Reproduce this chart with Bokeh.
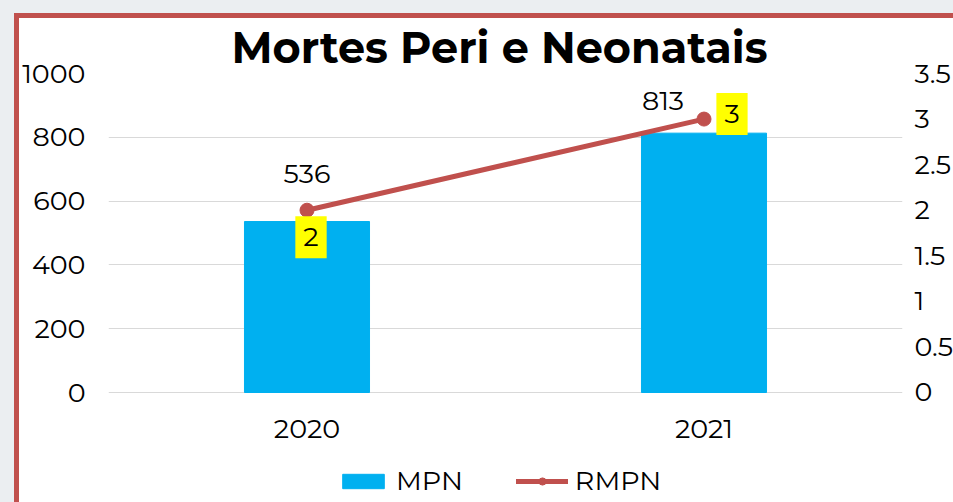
from bokeh.plotting import figure
from bokeh.models import (FactorRange, Range1d, LinearAxis, Legend, LegendItem,
                          ColumnDataSource, FixedTicker, Title)
from bokeh.core.properties import value
from bokeh.embed import file_html
from bokeh.resources import INLINE

# ---- data ----
years = ["2020", "2021"]
mpn = [536, 813]
rmpn = [2, 3]
mpn_labels = ["536", "813"]
rmpn_labels = ["2", "3"]
left_ticks = [0, 200, 400, 600, 800, 1000]
right_ticks = [0, 0.5, 1, 1.5, 2, 2.5, 3, 3.5]

# ---- layout constants (label placement, in screen px; +y is down) ----
mpn_lbl_dx = [0, -41]
mpn_lbl_dy = [-48, -32]
rmpn_lbl_dx = [4, 28]
rmpn_lbl_dy = [27, -5]
year_lbl_dy = 36
# frame extends below zero to hold the legend (legend is clipped to the frame)
LEFT_MIN, LEFT_MAX = -360.5, 1000
RIGHT_MIN, RIGHT_MAX = -1.262, 3.5

FONT = "Montserrat, Open Sans"
BLUE = "#00b0f0"
RED = "#c0504d"
GRID = "#d9d9d9"
PAGE = "#ebeef1"
FS = "27px"

src = ColumnDataSource(dict(
    x=years, mpn=mpn, rmpn=rmpn, mpn_lbl=mpn_labels, rmpn_lbl=rmpn_labels,
    mdx=mpn_lbl_dx, mdy=mpn_lbl_dy, rdx=rmpn_lbl_dx, rdy=rmpn_lbl_dy,
))

p = figure(
    width=939, height=489,
    x_range=FactorRange(*years, range_padding=0),
    y_range=Range1d(LEFT_MIN, LEFT_MAX),
    x_axis_location=None,
    output_backend="svg", toolbar_location=None,
    min_border_left=89, min_border_right=56, min_border_top=54, min_border_bottom=0,
    margin=(13, 0, 0, 14),
    styles={"border-left": f"5px solid {RED}", "border-top": f"5px solid {RED}",
            "box-shadow": f"-14px -13px 0 30px {PAGE}"},
)
p.background_fill_color = "white"
p.border_fill_color = "white"
p.outline_line_color = None

p.title = Title(text="Mortes Peri e Neonatais", align="left", text_font=FONT,
                text_font_size="43px", text_font_style="bold", text_color="black",
                offset=123, standoff=0)

p.extra_y_ranges = {"r": Range1d(RIGHT_MIN, RIGHT_MAX)}

bars = p.vbar(x="x", top="mpn", width=0.315, source=src, color=BLUE)
line = p.line(x="x", y="rmpn", source=src, y_range_name="r", line_color=RED,
              line_width=5, line_cap="round")
dots = p.scatter(x="x", y="rmpn", source=src, y_range_name="r", size=14,
                 fill_color=RED, line_color=RED)

# category labels (x axis)
p.text(x="x", y=0, text="x", source=src, y_offset=year_lbl_dy,
       text_align="center", text_baseline="middle", text_font=value(FONT),
       text_font_size=FS, text_color="black")

# data labels
p.text(x="x", y="mpn", text="mpn_lbl", source=src, x_offset="mdx", y_offset="mdy",
       text_align="center", text_baseline="middle", text_font=value(FONT),
       text_font_size=FS, text_color="black")

p.text(x="x", y="rmpn", text="rmpn_lbl", source=src, y_range_name="r",
       x_offset="rdx", y_offset="rdy",
       text_align="center", text_baseline="middle", text_font=value(FONT),
       text_font_size=FS, text_color="black",
       background_fill_color="#ffff00", padding=(8, 12))

# axes
p.yaxis.ticker = FixedTicker(ticks=left_ticks)
ax = p.yaxis[0]
rax = LinearAxis(y_range_name="r", ticker=FixedTicker(ticks=right_ticks))
p.add_layout(rax, "right")
for a, so in ((ax, 23), (rax, 12)):
    a.axis_line_color = None
    a.major_tick_line_color = None
    a.minor_tick_line_color = None
    a.major_tick_out = 0
    a.major_tick_in = 0
    a.minor_tick_out = 0
    a.minor_tick_in = 0
    a.major_label_text_font = FONT
    a.major_label_text_font_size = FS
    a.major_label_text_color = "black"
    a.major_label_standoff = so

p.xgrid.grid_line_color = None
p.ygrid.ticker = FixedTicker(ticks=left_ticks)
p.ygrid.grid_line_color = GRID
p.ygrid.grid_line_width = 1

legend = Legend(items=[LegendItem(label="MPN", renderers=[bars]),
                       LegendItem(label="RMPN", renderers=[line, dots])],
                orientation="horizontal", location=(229, 10),
                glyph_width=52, glyph_height=18, label_standoff=7, spacing=53,
                label_text_font=FONT, label_text_font_size=FS, label_text_color="black",
                border_line_color=None, background_fill_alpha=0, margin=0, padding=0)
p.add_layout(legend, "center")

open("out.html", "w").write(file_html(p, INLINE))
